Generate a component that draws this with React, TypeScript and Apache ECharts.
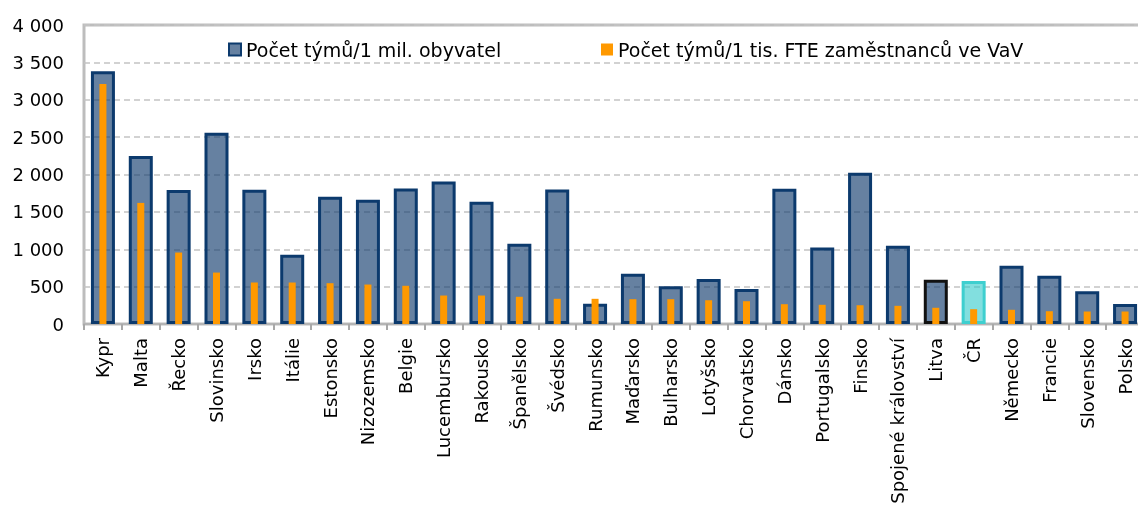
import React, { useEffect, useRef } from "react";
import * as echarts from "echarts";

const categories = [
  "Kypr", "Malta", "Řecko", "Slovinsko", "Irsko", "Itálie", "Estonsko", "Nizozemsko",
  "Belgie", "Lucembursko", "Rakousko", "Španělsko", "Švédsko", "Rumunsko", "Maďarsko",
  "Bulharsko", "Lotyšsko", "Chorvatsko", "Dánsko", "Portugalsko", "Finsko",
  "Spojené království", "Litva", "ČR", "Německo", "Francie", "Slovensko", "Polsko",
];

const teamsPerMillion = [
  3380, 2246, 1791, 2557, 1795, 926, 1702, 1662, 1814, 1908, 1635, 1073, 1801, 271,
  672, 504, 602, 468, 1809, 1025, 2023, 1047, 592, 575, 779, 646, 437, 267,
];

const teamsPerThousandFte = [
  3211, 1620, 956, 688, 555, 555, 546, 528, 511, 381, 381, 364, 337, 337,
  332, 332, 318, 305, 265, 257, 251, 243, 217, 198, 190, 171, 167, 167,
];

const yTicks = { min: 0, max: 4000, interval: 500 };

const seriesNames = ["Počet týmů/1 mil. obyvatel", "Počet týmů/1 tis. FTE zaměstnanců ve VaV"];

const FONT = "'DejaVu Sans', Verdana, sans-serif";

export default function App() {
  const ref = useRef<HTMLDivElement>(null);

  useEffect(() => {
    if (!ref.current) return;
    const chart = echarts.init(ref.current, null, { renderer: "svg" });

    const blueData = teamsPerMillion.map((v, i) => {
      const c = categories[i];
      if (c === "ČR") {
        return {
          value: v,
          itemStyle: { color: "rgba(40,200,200,0.58)", borderColor: "#3ECFCF" },
        };
      }
      if (c === "Litva") {
        return { value: v, itemStyle: { borderColor: "#111111" } };
      }
      return v;
    });

    chart.setOption({
      animation: false,
      textStyle: { fontFamily: FONT },
      grid: {
        left: 84,
        top: 25,
        width: 1060,
        bottom: 182,
        show: true,
        borderColor: "#BDBDBD",
        borderWidth: 3,
        containLabel: false,
        outerBoundsMode: "none",
      },
      legend: [
        {
          data: [seriesNames[0]],
          left: 228,
          top: 40,
          padding: 0,
          icon: "rect",
          itemWidth: 12,
          itemHeight: 12,
          itemGap: 0,
          textStyle: { fontFamily: FONT, fontSize: 19, color: "#000" },
        },
        {
          data: [seriesNames[1]],
          left: 601,
          top: 40,
          padding: 0,
          icon: "rect",
          itemWidth: 12,
          itemHeight: 12,
          textStyle: { fontFamily: FONT, fontSize: 19, color: "#000" },
        },
      ],
      xAxis: [
        {
          type: "category",
          data: categories,
          axisLine: { show: true, lineStyle: { color: "#B5B5B5", width: 2 } },
          axisTick: { show: true, length: 6, lineStyle: { color: "#A8A8A8", width: 2 } },
          axisLabel: {
            interval: 0,
            rotate: 90,
            margin: 14,
            fontFamily: FONT,
            fontSize: 18,
            color: "#000",
          },
          splitLine: { show: false },
        },
        {
          type: "category",
          data: categories,
          show: false,
        },
      ],
      yAxis: {
        type: "value",
        min: yTicks.min,
        max: yTicks.max,
        interval: yTicks.interval,
        axisLine: { show: false },
        axisTick: { show: false },
        axisLabel: {
          margin: 20,
          fontFamily: FONT,
          fontSize: 18,
          color: "#000",
          formatter: (v: number) => String(v).replace(/\B(?=(\d{3})+(?!\d))/g, " "),
        },
        splitLine: {
          show: true,
          lineStyle: { color: "#C4C4C4", width: 1.5, type: [6, 4] },
        },
      },
      series: [
        {
          name: seriesNames[0],
          type: "bar",
          xAxisIndex: 0,
          barWidth: 24,
          data: blueData,
          itemStyle: {
            color: "rgba(15,58,108,0.64)",
            borderColor: "#0C3A6D",
            borderWidth: 3,
          },
        },
        {
          name: seriesNames[1],
          type: "bar",
          xAxisIndex: 1,
          barWidth: 7,
          data: teamsPerThousandFte,
          itemStyle: { color: "#FF9900" },
          z: 3,
        },
      ],
    });

    return () => chart.dispose();
  }, []);

  return (
    <div
      ref={ref}
      style={{ position: "fixed", left: 0, top: 0, width: 1138, height: 506 }}
    />
  );
}
